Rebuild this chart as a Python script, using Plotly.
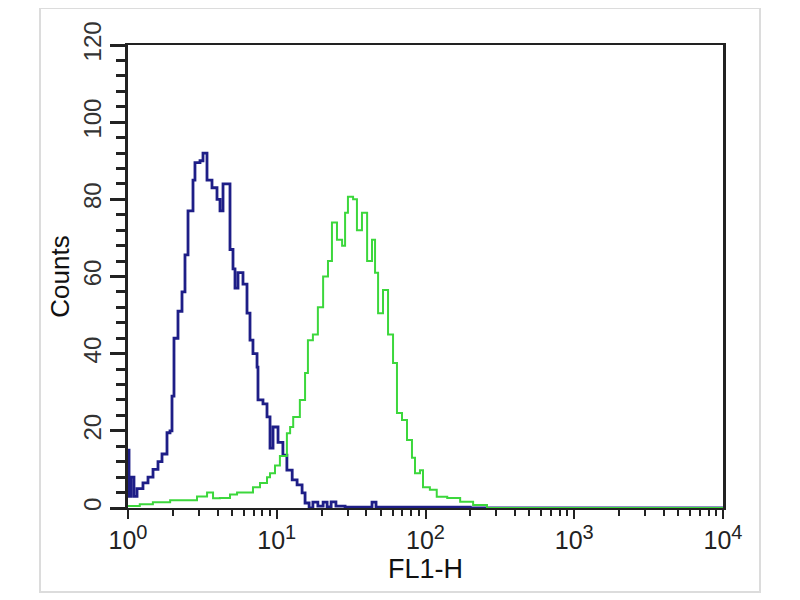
import plotly.graph_objects as go

# ---- data ----
blue_fl1 = [1.0, 1.016, 1.048, 1.097, 1.15, 1.261, 1.363, 1.473, 1.591, 1.693, 1.829, 1.916,
            1.976, 2.038, 2.168, 2.307, 2.416, 2.532, 2.735, 2.82, 3.048, 3.193, 3.397, 3.67,
            3.966, 4.155, 4.353, 4.63, 4.85, 5.08, 5.24, 5.49, 5.93, 6.31, 6.61, 6.92, 7.37,
            7.48, 8.08, 8.6, 9.01, 9.44, 10.2, 11.0, 11.7, 12.7, 13.7, 14.8, 15.5, 16.5, 17.5,
            18.9, 20.5, 21.8, 23.2, 25.0, 28.8, 36.3, 43.7, 46.5, 67.4, 200, 10000]
blue_counts = [15, 3, 8, 3, 5, 6.5, 8, 10, 12, 14, 19.5, 20,
               29, 44, 51, 56, 65.6, 77, 85, 89.5, 90, 92, 85, 83,
               80, 77, 84, 84, 67, 62, 57, 61, 58, 50.5, 43.5, 40, 36.5,
               28, 27, 23.6, 15.5, 21, 17, 13.7, 9.8, 7.3, 6, 3.9, 1.3, 0, 1.5,
               0.5, 1.5, 0.3, 1.6, 0.5, 0.2, 0.2, 1.5, 0.2, 0.2, 0, 0]

green_fl1 = [1.0, 1.2, 1.47, 1.92, 2.49, 2.91, 3.4, 3.73, 4.15, 4.85, 5.41, 6.12, 6.92,
             7.72, 8.6, 9.01, 9.73, 10.5, 11.7, 12.3, 12.9, 14.3, 15.5, 16.2, 17.5, 18.9,
             20.5, 22.1, 23.5, 25.4, 27.5, 28.8, 30.1, 32.6, 34.6, 37.4, 40.5, 43.7, 45.8,
             48.0, 51.8, 56.0, 60.5, 64.3, 69.5, 75.1, 81.1, 85.0, 91.8, 96.2, 107, 119,
             140, 171, 209, 259, 10000]
green_counts = [0.5, 1, 1.5, 2, 2, 3, 4, 2.5, 2.6, 3.5, 4, 4, 5.4,
                6.5, 8, 9, 11, 13.5, 19.4, 21, 23.6, 28, 35, 43.5, 45, 52,
                60, 64, 74, 69.5, 68, 76.5, 80.7, 80, 72, 76.5, 64, 69.5, 61,
                50.5, 56.5, 45, 37.6, 24.6, 22.8, 17.6, 13, 9, 9.8, 5.4, 4.7, 2.9,
                2.6, 1.6, 0.8, 0, 0]

y_ticks = [0, 20, 40, 60, 80, 100, 120]
decades = [1, 10, 100, 1000, 10000]
decade_labels = ["10<sup><span style='font-size:20px'>%d</span></sup>" % k for k in range(5)]
minor_x = [m * d for d in [1, 10, 100, 1000] for m in range(2, 10)]

fnt = "Arial, Liberation Sans, sans-serif"

fig = go.Figure()
fig.add_trace(go.Scatter(x=blue_fl1, y=blue_counts, mode="lines", line_shape="hv",
                         line=dict(color="rgb(30,30,135)", width=2.8), hoverinfo="x+y"))
fig.add_trace(go.Scatter(x=green_fl1, y=green_counts, mode="lines", line_shape="hv",
                         line=dict(color="rgb(60,215,60)", width=2), hoverinfo="x+y"))

# page body has an 8px margin, so margins are shifted by 8px
fig.update_layout(
    width=800, height=600,
    margin=dict(l=120, r=85, t=37, b=100),
    paper_bgcolor="white", plot_bgcolor="white",
    showlegend=False,
    font=dict(family=fnt, color="#222"),
    xaxis=dict(
        type="log", range=[0, 4],
        tickmode="array", tickvals=decades, ticktext=decade_labels,
        ticks="outside", ticklen=9, tickwidth=2, tickcolor="#222",
        tickfont=dict(size=25, color="#222"),
        minor=dict(tickmode="array", tickvals=minor_x, ticks="outside",
                   ticklen=6, tickwidth=2, tickcolor="#222", showgrid=False),
        showline=True, linecolor="#222", linewidth=2, mirror=True,
        showgrid=False, zeroline=False,
        title=dict(text="FL1-H", font=dict(size=27, color="#111"), standoff=0),
    ),
    yaxis=dict(
        range=[0, 120], tickmode="array", tickvals=y_ticks,
        tickangle=-90,
        ticks="outside", ticklen=15, tickwidth=3, tickcolor="#222",
        tickfont=dict(size=24, color="#333"),
        minor=dict(dtick=4, ticks="outside", ticklen=9, tickwidth=3, tickcolor="#222", showgrid=False),
        showline=True, linecolor="#222", linewidth=2.5, mirror=True,
        showgrid=False, zeroline=False,
        title=dict(text="Counts", font=dict(size=26, color="#111"), standoff=2),
    ),
    shapes=[dict(type="rect", xref="paper", yref="paper",
                 x0=(32 - 120) / 595, x1=(752 - 120) / 595,
                 y0=-(584 - 500) / 463, y1=(500 - 0) / 463,
                 line=dict(color="#dcdcdc", width=2), layer="below")],
)

fig.write_html("out.html")
